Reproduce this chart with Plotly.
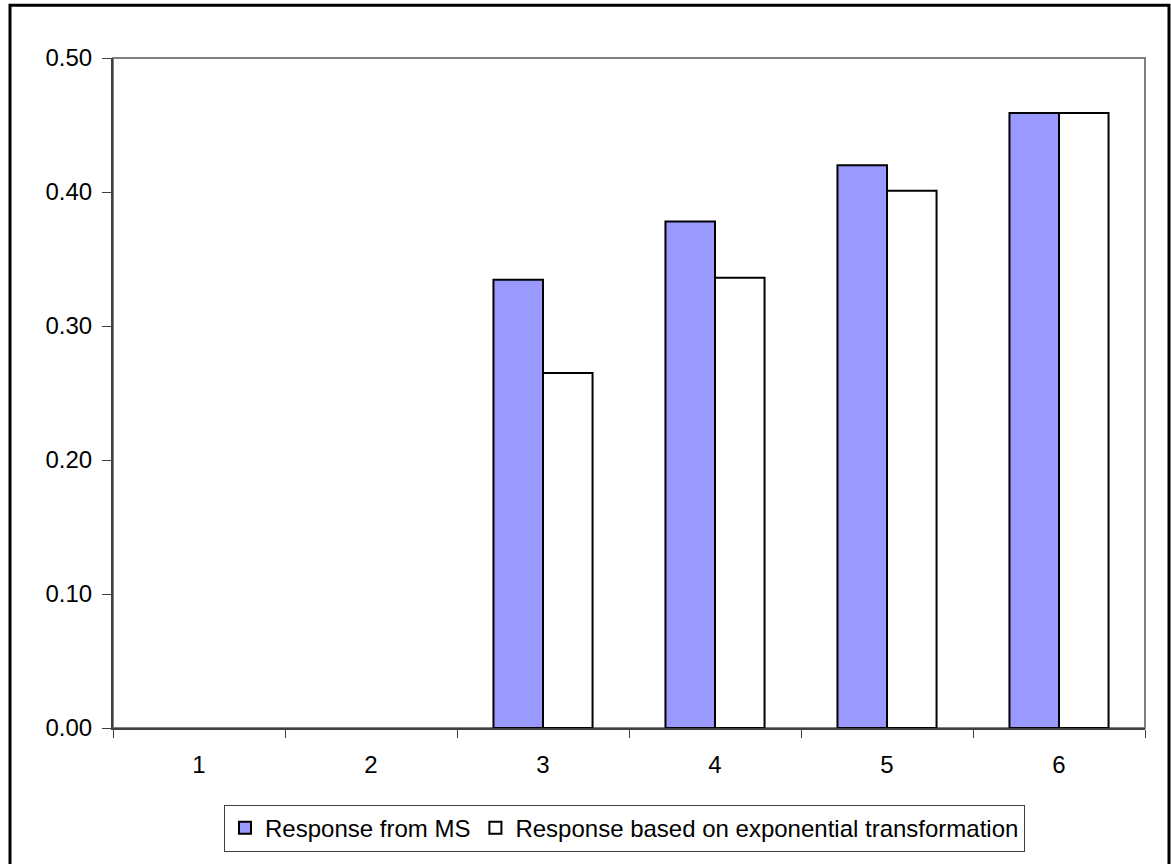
import plotly.graph_objects as go

# Category labels and the two response series (categories 1 and 2 have no value)
categories = ["1", "2", "3", "4", "5", "6"]
response_ms = [None, None, 0.3345, 0.378, 0.420, 0.459]
response_exp = [None, None, 0.265, 0.336, 0.401, 0.459]
series_names = ["Response from MS", "Response based on exponential transformation"]
y_ticks = [0.0, 0.1, 0.2, 0.3, 0.4, 0.5]

W, H = 1171, 864
L, R, T, B = 113, 1145, 58, 731  # plot area edges in pixels
pw, ph = R - L, B - T

def px_x(x):
    return (x - L) / pw

def px_y(y):
    return (B - y) / ph

font = "Arial, Liberation Sans, sans-serif"

fig = go.Figure()
fig.add_trace(go.Bar(
    x=categories, y=response_ms, name=series_names[0],
    marker=dict(color="#9999FF", line=dict(color="#000000", width=2)),
))
fig.add_trace(go.Bar(
    x=categories, y=response_exp, name=series_names[1],
    marker=dict(color="#FFFFFF", line=dict(color="#000000", width=2)),
))

# Outer chart frame and gray plot-area border
fig.add_shape(type="rect", xref="paper", yref="paper",
              x0=px_x(10), x1=px_x(1169), y0=px_y(880), y1=px_y(5),
              line=dict(color="#000000", width=3), layer="below")
fig.add_shape(type="rect", xref="paper", yref="paper",
              x0=0, x1=1, y0=0, y1=1,
              line=dict(color="#808080", width=2), layer="below")

fig.update_layout(
    width=W, height=H,
    margin=dict(l=L, r=W - R, t=T, b=H - B, pad=0),
    paper_bgcolor="#FFFFFF", plot_bgcolor="#FFFFFF",
    barmode="group", bargap=0.424, bargroupgap=0,
    font=dict(family=font, size=24, color="#000000"),
    showlegend=True,
    legend=dict(
        orientation="h", x=px_x(224), y=px_y(808),
        xanchor="left", yanchor="top",
        bordercolor="#404040", borderwidth=1,
        font=dict(size=24), itemwidth=30,
        traceorder="normal",
    ),
    xaxis=dict(
        type="category", range=[-0.5, 5.5],
        showline=True, linecolor="#404040", linewidth=2,
        ticks="outside", tickson="boundaries", ticklen=8,
        tickcolor="#404040", tickwidth=1,
        ticklabelstandoff=14,
        showgrid=False, zeroline=False,
        tickfont=dict(size=24),
    ),
    yaxis=dict(
        range=[0, 0.5], tickvals=y_ticks, tickformat=".2f",
        showline=True, linecolor="#404040", linewidth=2,
        ticks="outside", ticklen=9, tickcolor="#404040", tickwidth=1,
        ticklabelstandoff=5,
        showgrid=False, zeroline=False,
        tickfont=dict(size=24),
    ),
)

fig.write_html("out.html")
